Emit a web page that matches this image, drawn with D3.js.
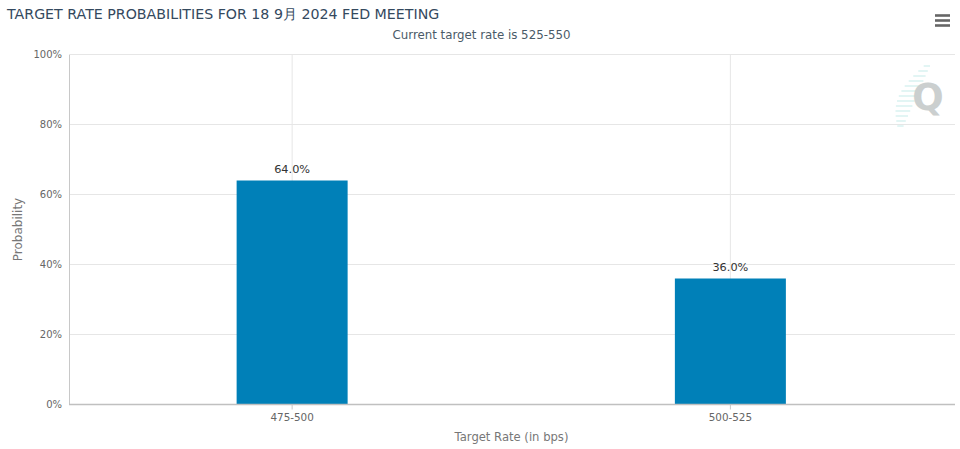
<!DOCTYPE html>
<html>
<head>
<meta charset="utf-8">
<script src="https://cdn.jsdelivr.net/npm/d3@7"></script>
<style>
  html, body { margin: 0; padding: 0; background: #fff; }
  svg { display: block; }
  text { font-family: "DejaVu Sans", sans-serif; }
</style>
</head>
<body>
<svg id="chart"></svg>
<script>
const categories = ['475-500', '500-525'];
const probabilities = [64.0, 36.0];
const yTicks = [0, 20, 40, 60, 80, 100];

const width = 960, height = 449;
const margin = { top: 54.5, right: 5, bottom: 44.5, left: 69 };
const innerBottom = height - margin.bottom;

const svg = d3.select('#chart').attr('width', width).attr('height', height);

const x = d3.scaleBand().domain(categories).range([73, 949.5]);
const y = d3.scaleLinear().domain([0, 100]).range([innerBottom, margin.top]);
const barWidth = 111;

// gridlines
svg.append('g').selectAll('line').data(yTicks.slice(1)).enter().append('line')
  .attr('x1', margin.left).attr('x2', width - margin.right)
  .attr('y1', d => y(d)).attr('y2', d => y(d))
  .attr('stroke', '#e6e6e6');

svg.append('g').selectAll('line').data(categories).enter().append('line')
  .attr('x1', d => x(d) + x.bandwidth() / 2).attr('x2', d => x(d) + x.bandwidth() / 2)
  .attr('y1', margin.top).attr('y2', innerBottom)
  .attr('stroke', '#e6e6e6');

// logo
const logo = svg.append('g');
d3.range(13).forEach(i => {
  const ly = 66 + i * 5;
  const lx = 930 - i * 2.2;
  const len = 3 + 15 * Math.sin(Math.PI * (i + 1) / 14);
  logo.append('line')
    .attr('x1', lx - len).attr('x2', lx)
    .attr('y1', ly).attr('y2', ly)
    .attr('stroke', '#d2f0ee').attr('stroke-width', 1.3);
});
logo.append('text').attr('x', 928).attr('y', 110)
  .attr('text-anchor', 'middle')
  .style('font-size', '37px').style('font-weight', 'bold')
  .attr('fill', '#cbcfcf').text('Q');

// bars
svg.append('g').selectAll('rect').data(categories).enter().append('rect')
  .attr('x', d => x(d) + x.bandwidth() / 2 - barWidth / 2)
  .attr('width', barWidth)
  .attr('y', (d, i) => y(probabilities[i]))
  .attr('height', (d, i) => innerBottom - y(probabilities[i]))
  .attr('fill', '#0080b8');

svg.append('g').selectAll('text').data(categories).enter().append('text')
  .attr('x', d => x(d) + x.bandwidth() / 2)
  .attr('y', (d, i) => y(probabilities[i]) - 8)
  .attr('text-anchor', 'middle')
  .style('font-size', '11.3px')
  .attr('fill', '#333')
  .text((d, i) => probabilities[i].toFixed(1) + '%');

// axes
const yAxis = d3.axisLeft(y).tickValues(yTicks).tickFormat(d => d + '%').tickSize(0).tickPadding(7);
const gy = svg.append('g').attr('transform', `translate(${margin.left},0)`).call(yAxis);
gy.select('.domain').attr('stroke', '#c8c8c8');
gy.selectAll('text').style('font-size', '10px').attr('fill', '#666').style('font-family', '"DejaVu Sans", sans-serif');

const xAxis = d3.axisBottom(x).tickSize(5).tickPadding(4);
const gx = svg.append('g').attr('transform', `translate(0,${innerBottom})`).call(xAxis);
gx.select('.domain').remove();
gx.append('line').attr('x1', margin.left).attr('x2', width - margin.right).attr('stroke', '#c0c0c0').attr('stroke-width', 1.4);
gx.selectAll('.tick line').attr('stroke', '#c8c8c8');
gx.selectAll('text').style('font-size', '10.4px').attr('fill', '#666').style('font-family', '"DejaVu Sans", sans-serif');

// titles
svg.append('text').attr('x', 7).attr('y', 19)
  .style('font-size', '14.2px').attr('fill', '#34495e')
  .text('TARGET RATE PROBABILITIES FOR 18 9月 2024 FED MEETING');
svg.append('text').attr('x', 481.5).attr('y', 39).attr('text-anchor', 'middle')
  .style('font-size', '11.8px').attr('fill', '#4a5a68')
  .text('Current target rate is 525-550');
svg.append('text').attr('x', 511.5).attr('y', 441).attr('text-anchor', 'middle')
  .style('font-size', '11.6px').attr('fill', '#777')
  .text('Target Rate (in bps)');
svg.append('text').attr('transform', 'translate(21.5,229.5) rotate(-90)').attr('text-anchor', 'middle')
  .style('font-size', '12px').attr('fill', '#777')
  .text('Probability');

// menu icon
svg.append('g').selectAll('line').data([16, 21, 26]).enter().append('line')
  .attr('x1', 935).attr('x2', 950)
  .attr('y1', d => d - 0.5).attr('y2', d => d - 0.5)
  .attr('stroke', '#666').attr('stroke-width', 2.6);
</script>
</body>
</html>
